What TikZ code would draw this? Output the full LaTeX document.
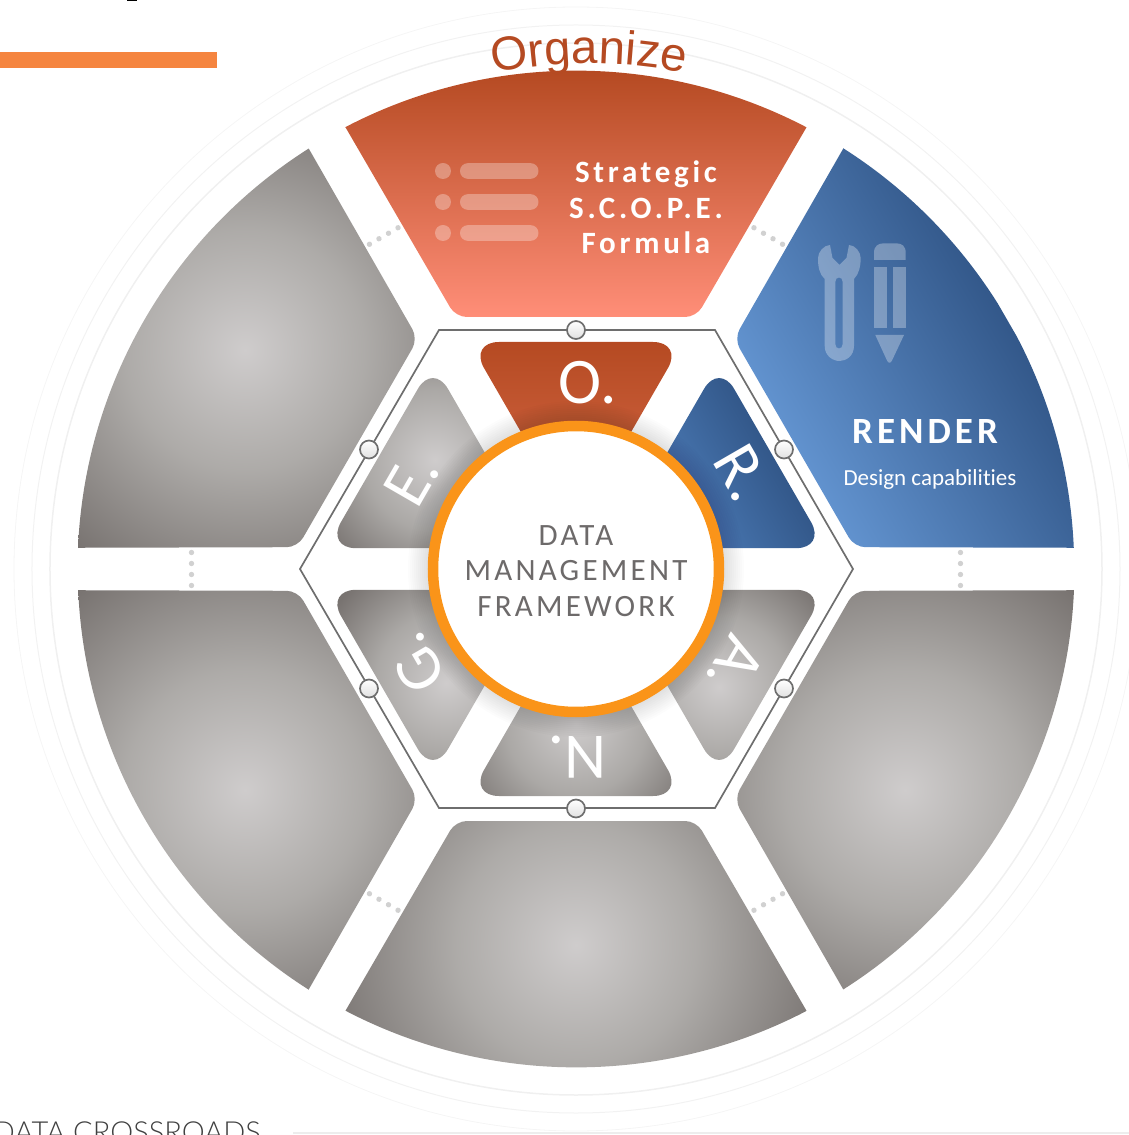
\documentclass[tikz,border=0pt]{standalone}
\usepackage{fontspec}
\usetikzlibrary{decorations.text}
\newfontfamily\latofont[UprightFont=* Light]{Lato}
\newfontfamily\coresp[LetterSpace=10.5]{Carlito}
\newfontfamily\carlfont[Ligatures=NoCommon]{Carlito}
\newfontfamily\carlsp[LetterSpace=12]{Carlito}
\newfontfamily\rendersp[LetterSpace=11]{Carlito}
\newfontfamily\orgfont{Liberation Sans}
\definecolor{rust}{HTML}{B54A22}
\definecolor{salmon}{HTML}{FF8E78}
\definecolor{rustlow}{HTML}{C85C38}
\definecolor{bluelight}{HTML}{6192CE}
\definecolor{bluedark}{HTML}{33588A}
\definecolor{bluemid}{HTML}{4F80BD}
\definecolor{ringorange}{HTML}{FA9419}
\definecolor{hexline}{HTML}{6E6E6E}
\definecolor{coretext}{HTML}{6D6A6A}
\definecolor{barorange}{HTML}{F58540}
\pgfdeclareradialshading{graybig}{\pgfpointorigin}{rgb(0bp)=(.81,.80,.80); rgb(10bp)=(.68,.67,.66); rgb(21.7bp)=(.47,.45,.44); rgb(50bp)=(.47,.45,.44)}
\pgfdeclareradialshading{graysmall}{\pgfpointorigin}{rgb(0bp)=(.81,.80,.80); rgb(11bp)=(.67,.66,.65); rgb(21bp)=(.47,.45,.44); rgb(50bp)=(.47,.45,.44)}
\newcommand{\sectorshape}{(-230.5,441.7) {[rounded corners=11pt] -- (-120.3,252) -- (120.3,252)} -- (230.5,441.7) arc[start angle=62.4,end angle=117.6,radius=498] -- cycle}
\newcommand{\trishape}{[rounded corners=30pt] (0,227) -- (107,227) -- (0,41.5) -- (-107,227) -- cycle}
\newcommand{\graysector}[3]{\begin{scope}[rotate=#1]\clip \sectorshape;\begin{scope}[rotate=-#1]\shade[shading=graybig] (#2,#3) circle (300);\end{scope}\end{scope}}
\newcommand{\graytri}[3]{\begin{scope}[rotate=#1]\clip \trishape;\begin{scope}[rotate=-#1]\shade[shading=graysmall] (#2,#3) circle (160);\end{scope}\end{scope}}
\tikzset{
  x=1pt,y=1pt,
  pix/.style={shift={(-576,569)},yscale=-1},
  ringline/.style={draw=#1,fill=none},
  handle/.style={circle,draw=hexline,line width=1.7pt,minimum size=18pt,inner sep=0pt,top color=white,bottom color=black!12},
  letternode/.style={text=white,inner sep=0pt,font=\fontsize{65}{65}\selectfont\carlfont},
  ghost/.style={fill=white,fill opacity=.3},
  dotmark/.style={fill=black!18},
}
\begin{document}
\begin{tikzpicture}
\useasboundingbox (-576,-566) rectangle (553,569);
\clip (-576,-566) rectangle (553,569);
% rings
\draw[ringline=black!6,line width=1.5pt] (0,0) circle (526);
\draw[ringline=black!5,line width=1pt] (0,0) circle (544);
\draw[ringline=black!4,line width=.8pt] (0,0) circle (562);
% dots between the sectors
\foreach \a in {0,60,...,300}
  \foreach \t in {-16.5,-5.5,5.5,16.5}
    \fill[dotmark,rotate=\a] (384.5,\t) circle (2.7);
% outer sectors
\begin{scope}
  \clip \sectorshape;
  \shade[top color=rust,bottom color=salmon] (-300,252) rectangle (300,498);
\end{scope}
\begin{scope}[transform canvas={rotate=-60}]
  \clip \sectorshape;
  \shade[top color=bluedark,bottom color=bluelight] (-300,252) rectangle (300,498);
\end{scope}
\graysector{-120}{329}{-221}
\graysector{180}{0}{-376}
\graysector{120}{-331}{-221}
\graysector{60}{-331}{219}
% inner triangles
\begin{scope}
  \clip \trishape;
  \shade[top color=rust,bottom color=rustlow] (-200,129) rectangle (200,227);
\end{scope}
\begin{scope}[transform canvas={rotate=-60}]
  \clip \trishape;
  \shade[top color=bluedark,bottom color=bluemid] (-200,100) rectangle (200,227);
\end{scope}
\graytri{-120}{143}{-118}
\graytri{180}{0}{-155}
\graytri{120}{-130}{-114}
\graytri{60}{-141}{109}
% hexagon and handles
\begin{scope}[pix]
  \coordinate (hexA) at (439,330);
  \coordinate (hexB) at (715,330);
  \coordinate (hexC) at (853,569);
  \coordinate (hexD) at (715,808);
  \coordinate (hexE) at (439,808);
  \coordinate (hexF) at (300,569);
  \draw[hexline,line width=1.7pt] (hexA) -- (hexB) -- (hexC) -- (hexD) -- (hexE) -- (hexF) -- cycle;
  \node[handle] (handleTop) at (576,330) {};
  \node[handle] (handleUR) at (784,449.5) {};
  \node[handle] (handleLR) at (784,688.5) {};
  \node[handle] (handleBot) at (576,808.5) {};
  \node[handle] (handleLL) at (369,688.5) {};
  \node[handle] (handleUL) at (369,449.5) {};
\end{scope}
% soft shadow round the core
\foreach \r in {150,152,...,168}
  \fill[black,fill opacity=.01] (0,0) circle (\r);
% core
\draw[ringorange,line width=10.5pt,fill=white] (0,0) circle (143);
\node[align=center,inner sep=0pt,text=coretext,font=\fontsize{31}{35.5}\selectfont\coresp] (corelabel) at (0,-2) {DATA\\MANAGEMENT\\FRAMEWORK};
% pixel-coordinate details
\begin{scope}[pix]
  % orange bar and the cut-off mark above it
  \fill[barorange] (0,52) rectangle (217.5,68.5);
  \fill[black] (127,0) rectangle (137,1.5);
  % list icon
  \foreach \y in {171,202,233} {
    \fill[ghost] (443,\y) circle (8);
    \fill[ghost,rounded corners=7.7pt] (460,\y-7.8) rectangle (538.5,\y+7.8);
  }
  % wrench
  \fill[ghost,even odd rule]
    (824.7,346) -- (824.7,279) .. controls (819,274) and (818,266) .. (818,258)
    .. controls (818,252) and (824,245) .. (830,245) -- (832.5,258) -- (839.5,265) -- (846.5,258) -- (849,245)
    .. controls (855,245) and (860.7,252) .. (860.7,258) .. controls (860.7,266) and (859,274) .. (854,279)
    -- (854,346) .. controls (854,356) and (846,361) .. (839.5,361) .. controls (833,361) and (824.7,356) .. (824.7,346) -- cycle
    (835.3,282) .. controls (835.3,276) and (842.7,276) .. (842.7,282) -- (842.7,344) .. controls (842.7,350) and (835.3,350) .. (835.3,344) -- cycle;
  % pencil
  \fill[ghost] (874,260) -- (874,253) .. controls (874,246) and (878,243.3) .. (884,243.3) -- (896,243.3) .. controls (902,243.3) and (905.7,246) .. (905.7,253) -- (905.7,260) -- cycle;
  \fill[ghost] (874,266.7) rectangle (887,327.7);
  \fill[ghost] (893,266.7) rectangle (906,327.7);
  \fill[ghost] (875.3,335) -- (904,335) -- (892,360.5) .. controls (890.5,363.5) and (888.5,363.5) .. (887,360.5) -- cycle;
  % texts
  \node[inner sep=0pt,text=white,align=center,font=\fontsize{31}{35.5}\selectfont\carlsp\bfseries] (scope) at (646,207.5) {Strategic\\S.C.O.P.E.\\Formula};
  \node[inner sep=0pt,text=white,font=\fontsize{37}{37}\selectfont\rendersp\bfseries] (render) at (925,431.5) {RENDER};
  \node[inner sep=0pt,text=white,font=\fontsize{23}{23}\selectfont\carlfont] (design) at (930,479) {Design capabilities};
  \node[letternode] (letterO) at (588,383) {O.};
  \node[letternode,rotate=-60] (letterR) at (742,473) {R.};
  \node[letternode,rotate=-120] (letterA) at (736,665) {A.};
  \node[letternode,rotate=180] (letterN) at (577.5,757) {N.};
  \node[letternode,rotate=120] (letterG) at (416,663.5) {G.};
  \node[letternode,rotate=60] (letterE) at (411.5,479.5) {E.};
  \node[anchor=base east,inner sep=0pt,text=black!75,font=\fontsize{29}{29}\selectfont\latofont] (cross) at (261,1142.6) {DATA CROSSROADS};
  \draw[black!7,line width=1.5pt] (293,1133) -- (1129,1133);
\end{scope}
% curved title
\path[decorate,decoration={text along path,text align=center,text={|\fontsize{47.5}{47.5}\selectfont\orgfont\color{rust}|Organize}}]
  (13,15.5) ++(114:490) arc[start angle=114,end angle=66,radius=490];
\end{tikzpicture}
\end{document}
